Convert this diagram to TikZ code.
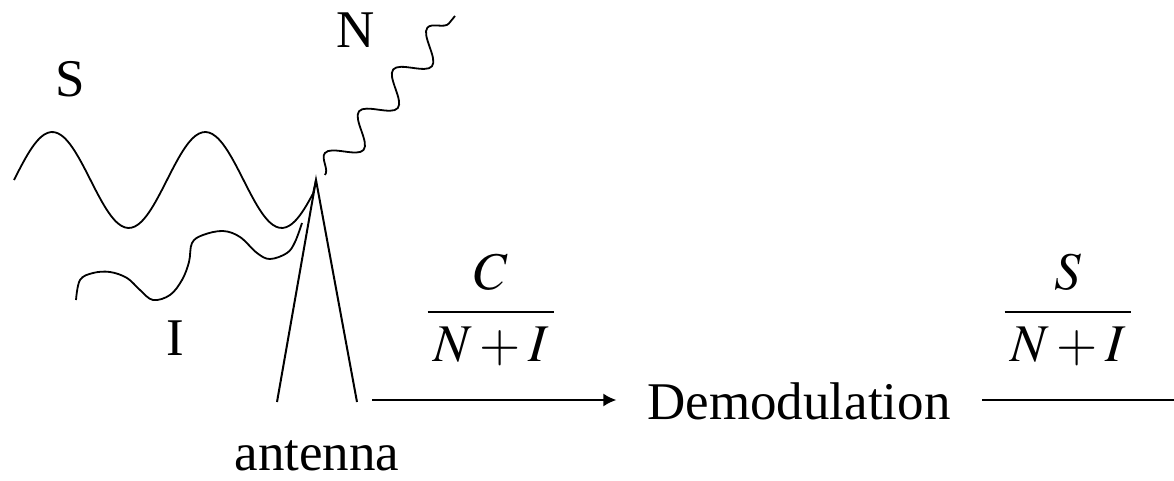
\documentclass[tikz,border=0pt]{standalone}
\usepackage{amsmath}
\usepackage{mathptmx}
\usepackage{fontspec}
\setmainfont{Liberation Serif}
\usetikzlibrary{positioning,calc,arrows.meta,decorations.pathmorphing}

\begin{document}
\begin{tikzpicture}[x=0.5pt, y=-0.5pt, line width=1pt, >={Latex[length=6.5pt,width=6.5pt]},
        font=\fontsize{26.5}{30}\selectfont,
        lbl/.style={inner sep=0pt, anchor=base},
        wave/.style={line width=0.9pt, line join=round}]
    \useasboundingbox (0,0) rectangle (1174,481);
    % antenna
    \coordinate (tip) at (316,180);
    \draw (277,402) -- (tip) -- (357,402);
    \node[lbl] (antlbl) at (317,470) {antenna};
    % incoming signals
    \draw[wave] plot[domain=14:313, samples=90, smooth] ({\x},{180-48*sin(2.353*(\x-14))}) -- (tip);
    \draw[wave] plot[smooth, tension=0.6] coordinates {(76,300) (80,280) (93,273) (110,272) (127,278)
        (140,290) (153,300) (170,295) (182,280) (189,262) (192,243) (203,235) (223,231) (240,237)
        (257,253) (270,259) (287,253) (295,242) (302,223)};
    \draw[wave, decorate, decoration={snake, amplitude=7pt, segment length=27pt}] (325,175) -- (455,16);
    \node[lbl] (S) at (70,97) {S};
    \node[lbl] (N) at (356,48) {N};
    \node[lbl] (I) at (175,355) {I};
    % receiver chain
    \node[lbl, inner xsep=15pt] (demod) at (799,419) {Demodulation};
    \coordinate (feed) at (372,400);
    \draw[->] (feed) -- (feed -| demod.west);
    \node (cni) at (491,310) {$\dfrac{C}{\,N+I\,}$};
    \node (sni) at (1068,310) {$\dfrac{S}{\,N+I\,}$};
    \coordinate (out) at (982,400);
    \coordinate (outend) at (1174,400);
    \draw (out) -- (outend);
\end{tikzpicture}
\end{document}
